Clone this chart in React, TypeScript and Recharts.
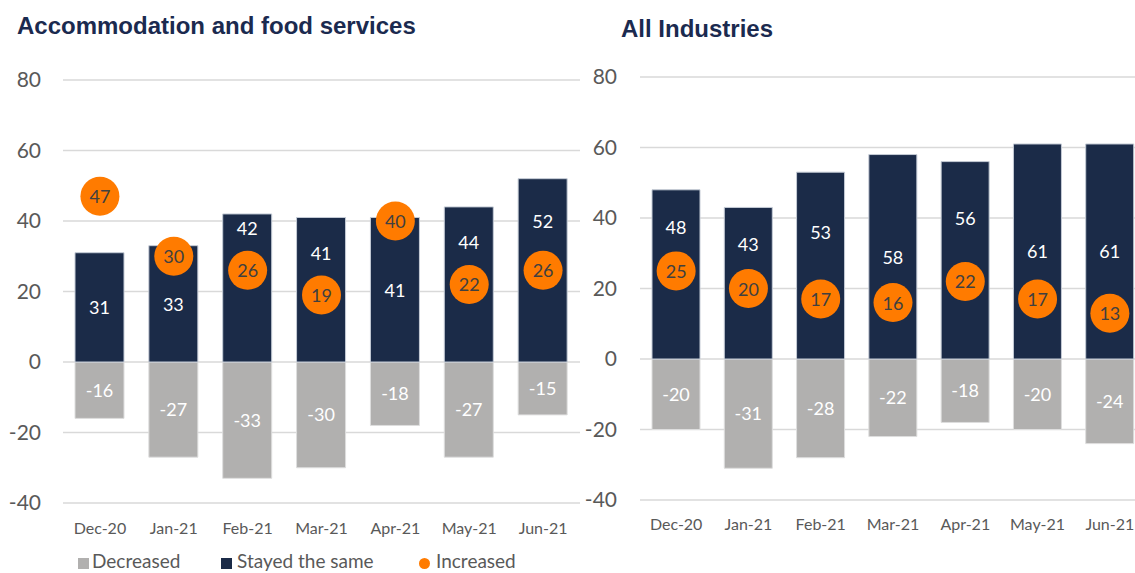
import React from "react";
import { Bar, CartesianGrid, ComposedChart, LabelList, Scatter, XAxis, YAxis } from "recharts";

const months = ["Dec-20", "Jan-21", "Feb-21", "Mar-21", "Apr-21", "May-21", "Jun-21"];
const yTicks = [-40, -20, 0, 20, 40, 60, 80];

// Accommodation and food services
const accDecreased = [-16, -27, -33, -30, -18, -27, -15];
const accStayed = [31, 33, 42, 41, 41, 44, 52];
const accIncreased = [47, 30, 26, 19, 40, 22, 26];

// All industries
const allDecreased = [-20, -31, -28, -22, -18, -20, -24];
const allStayed = [48, 43, 53, 58, 56, 61, 61];
const allIncreased = [25, 20, 17, 16, 22, 17, 13];

const NAVY = "#1b2b48";
const GREY = "#b1b0af";
const ORANGE = "#ff7b00";
const TICK = "#595959";
const FONT = "Lato, 'Open Sans', sans-serif";

const build = (dec: number[], stay: number[], inc: number[]) =>
  months.map((m, i) => ({ month: m, decreased: dec[i], stayed: stay[i], increased: inc[i] }));

// dot with its value written inside
const IncDot = (props: any) => {
  const { cx, cy, payload } = props;
  if (cx == null || cy == null) return null;
  return (
    <g>
      <circle cx={cx} cy={cy} r={19.5} fill={ORANGE} />
      <text x={cx} y={cy} textAnchor="middle" dominantBaseline="central" fontSize={18} fill="#404040" fontFamily={FONT}>
        {payload.increased}
      </text>
    </g>
  );
};

// "stayed" label sits in the middle, unless the orange dot is in the way
const stayedLabel = (inc: number[]) => (props: any) => {
  const { x, y, width, height, value, index } = props;
  const ppu = height / value;
  const zeroY = y + height;
  const dotY = zeroY - inc[index] * ppu;
  const center = y + height / 2;
  let ly = center;
  if (Math.abs(dotY - center) < 40) {
    ly = dotY >= center - 25 ? Math.max(y + 13, Math.min(dotY - 42, (y + dotY - 19) / 2 + 6)) : dotY + 32;
  }
  return (
    <text x={x + width / 2} y={ly} textAnchor="middle" dominantBaseline="central" fontSize={18} fill="#fff" fontFamily={FONT}>
      {value}
    </text>
  );
};

type PanelProps = {
  dec: number[];
  stay: number[];
  inc: number[];
  width: number;
  height: number;
  top: number;
  yWidth: number;
  barSize: number;
  yMargin: number;
  xMargin: number;
};

function Panel({ dec, stay, inc, width, height, top, yWidth, barSize, yMargin, xMargin }: PanelProps) {
  const data = build(dec, stay, inc);
  return (
    <ComposedChart width={width} height={height} data={data} stackOffset="sign" margin={{ top, right: 0, left: 0, bottom: 0 }}>
      <CartesianGrid vertical={false} stroke="#d9d9d9" strokeWidth={1.5} />
      <XAxis
        dataKey="month"
        axisLine={false}
        tickLine={false}
        tickSize={0}
        tickMargin={xMargin}
        height={42}
        interval={0}
        tick={{ fill: TICK, fontSize: 16, fontFamily: FONT }}
      />
      <YAxis
        domain={[-40, 80]}
        ticks={yTicks}
        axisLine={false}
        tickLine={false}
        tickSize={0}
        tickMargin={yMargin}
        width={yWidth}
        tick={{ fill: TICK, fontSize: 21, fontFamily: FONT }}
      />
      <Bar dataKey="decreased" stackId="s" fill={GREY} stroke="#dedede" strokeWidth={1} barSize={barSize} isAnimationActive={false}>
        <LabelList dataKey="decreased" position="center" fill="#fff" fontSize={18} fontFamily={FONT} />
      </Bar>
      <Bar dataKey="stayed" stackId="s" fill={NAVY} stroke="#c5ccd6" strokeWidth={1} barSize={barSize} isAnimationActive={false}>
        <LabelList dataKey="stayed" content={stayedLabel(inc)} />
      </Bar>
      <Scatter dataKey="increased" fill={ORANGE} shape={IncDot} isAnimationActive={false} />
    </ComposedChart>
  );
}

const titleStyle: React.CSSProperties = {
  position: "absolute",
  fontFamily: "'Liberation Sans', Arial, sans-serif",
  fontWeight: 700,
  fontSize: 24,
  lineHeight: "24px",
  color: "#1b2a4f",
  whiteSpace: "nowrap",
};

const legendText: React.CSSProperties = {
  position: "absolute",
  top: 551,
  fontSize: 19,
  lineHeight: "19px",
  color: TICK,
  fontFamily: FONT,
  whiteSpace: "nowrap",
};

export default function App() {
  return (
    <div style={{ position: "absolute", left: 0, top: 0, width: 1135, height: 573, overflow: "hidden", background: "#fff" }}>
      <div style={{ ...titleStyle, left: 17, top: 14 }}>Accommodation and food services</div>
      <div style={{ ...titleStyle, left: 621, top: 17 }}>All Industries</div>

      <div style={{ position: "absolute", left: 0, top: 0 }}>
        <Panel dec={accDecreased} stay={accStayed} inc={accIncreased} width={580} height={545} top={80} yWidth={63} barSize={49} yMargin={22} xMargin={20} />
      </div>
      <div style={{ position: "absolute", left: 580, top: 0 }}>
        <Panel dec={allDecreased} stay={allStayed} inc={allIncreased} width={566} height={542} top={77} yWidth={60} barSize={48} yMargin={23} xMargin={19} />
      </div>

      {/* legend */}
      <div style={{ position: "absolute", left: 78, top: 558, width: 11, height: 11, background: GREY }} />
      <div style={{ ...legendText, left: 92 }}>Decreased</div>
      <div style={{ position: "absolute", left: 221, top: 558, width: 11, height: 11, background: NAVY }} />
      <div style={{ ...legendText, left: 237 }}>Stayed the same</div>
      <div style={{ position: "absolute", left: 419, top: 558, width: 11, height: 11, borderRadius: "50%", background: ORANGE }} />
      <div style={{ ...legendText, left: 436 }}>Increased</div>
    </div>
  );
}
